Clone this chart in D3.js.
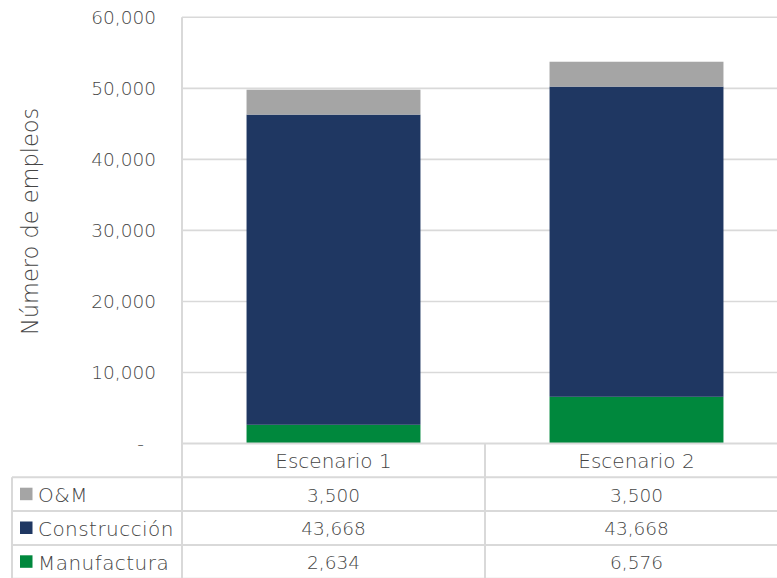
<!DOCTYPE html>
<html>
<head>
<meta charset="utf-8">
<script src="https://cdn.jsdelivr.net/npm/d3@7"></script>
<style>
  html, body { margin: 0; padding: 0; background: #fff; }
  svg { display: block; }
  text { font-family: "DejaVu Sans", "Open Sans", sans-serif; font-weight: 300; fill: #454545; }
</style>
</head>
<body>
<svg id="chart" width="777" height="578"></svg>
<script>
// Empleos por escenario y componente
const categories = ["Escenario 1", "Escenario 2"];
const seriesNames = ["Manufactura", "Construcción", "O&M"];
const manufactura = [2634, 6576];
const construccion = [43668, 43668];
const om = [3500, 3500];
const yTicks = [0, 10000, 20000, 30000, 40000, 50000, 60000];
const colors = { "Manufactura": "#00883D", "Construcción": "#1F3762", "O&M": "#A5A5A5" };

const svg = d3.select("#chart");
const gridColor = "#D9D9D9";
const textColor = "#454545";

const plotLeft = 182, plotRight = 788, plotTop = 17.3, plotBottom = 443.5;
const rowH = 33.8;

const x = d3.scaleBand().domain(categories).range([plotLeft, plotRight])
  .paddingInner(0.426).paddingOuter(0.213);
const y = d3.scaleLinear().domain([0, 60000]).range([plotBottom, plotTop]);

const rows = categories.map((c, i) => ({
  cat: c, "Manufactura": manufactura[i], "Construcción": construccion[i], "O&M": om[i]
}));
const stacked = d3.stack().keys(seriesNames)(rows);

// Gridlines
svg.append("g").selectAll("line").data(yTicks.filter(t => t > 0)).join("line")
  .attr("x1", plotLeft).attr("x2", 777)
  .attr("y1", d => y(d)).attr("y2", d => y(d))
  .attr("stroke", gridColor).attr("stroke-width", 1.6);

// Y axis with labels
const yAxis = d3.axisLeft(y).tickValues(yTicks)
  .tickFormat(d => d === 0 ? "-" : d3.format(",")(d)).tickSize(0).tickPadding(26);
const ya = svg.append("g").attr("transform", `translate(${plotLeft},0)`).call(yAxis);
ya.select(".domain").remove();
ya.selectAll("text").style("font-size", "18.5px").attr("fill", textColor)
  .style("font-family", "'DejaVu Sans', sans-serif").style("font-weight", 300)
  .attr("dx", d => d === 0 ? -12 : 0);

// Stacked bars
svg.append("g").selectAll("g").data(stacked).join("g")
  .attr("fill", d => colors[d.key])
  .selectAll("rect").data(d => d).join("rect")
  .attr("x", d => x(d.data.cat))
  .attr("width", x.bandwidth())
  .attr("y", d => y(d[1]))
  .attr("height", d => y(d[0]) - y(d[1]));

// Axis title
svg.append("text")
  .attr("transform", `translate(38,${(plotTop + plotBottom) / 2 - 9}) rotate(-90)`)
  .attr("text-anchor", "middle")
  .style("font-size", "22.5px")
  .text("Número de empleos");

// Data table
const tableTop = plotBottom;
const tableLeft = 12;
const tableRows = [
  { name: "O&M", values: om },
  { name: "Construcción", values: construccion },
  { name: "Manufactura", values: manufactura }
];
const g = svg.append("g");
// horizontal rules
g.append("line").attr("x1", plotLeft).attr("x2", 777)
  .attr("y1", tableTop).attr("y2", tableTop)
  .attr("stroke", gridColor).attr("stroke-width", 2);
for (let i = 1; i <= 4; i++) {
  g.append("line").attr("x1", tableLeft).attr("x2", 777)
    .attr("y1", tableTop + rowH * i).attr("y2", tableTop + rowH * i)
    .attr("stroke", gridColor).attr("stroke-width", 2);
}
// vertical rules
g.append("line").attr("x1", plotLeft).attr("x2", plotLeft)
  .attr("y1", plotTop).attr("y2", 578).attr("stroke", gridColor).attr("stroke-width", 2);
g.append("line").attr("x1", tableLeft).attr("x2", tableLeft)
  .attr("y1", tableTop + rowH).attr("y2", 578).attr("stroke", gridColor).attr("stroke-width", 2);
const step = x.step();
g.append("line").attr("x1", plotLeft + step).attr("x2", plotLeft + step)
  .attr("y1", tableTop).attr("y2", 578).attr("stroke", gridColor).attr("stroke-width", 2);

// category header
g.selectAll("text.cat").data(categories).join("text").attr("class", "cat")
  .attr("x", d => x(d) + x.bandwidth() / 2)
  .attr("y", tableTop + rowH / 2 + 1)
  .attr("dy", "0.35em").attr("text-anchor", "middle")
  .style("font-size", "20px").text(d => d);

tableRows.forEach((r, i) => {
  const cy = tableTop + rowH * (i + 1) + rowH / 2;
  g.append("rect").attr("x", 20).attr("y", cy - 6.5).attr("width", 12.5).attr("height", 12.5)
    .attr("fill", colors[r.name]);
  g.append("text").attr("x", 38).attr("y", cy + 1).attr("dy", "0.35em")
    .style("font-size", "20px").style("letter-spacing", "0.45px").text(r.name);
  r.values.forEach((v, j) => {
    g.append("text").attr("x", x(categories[j]) + x.bandwidth() / 2).attr("y", cy + 1)
      .attr("dy", "0.35em").attr("text-anchor", "middle")
      .style("font-size", "18.5px").text(d3.format(",")(v));
  });
});
</script>
</body>
</html>
